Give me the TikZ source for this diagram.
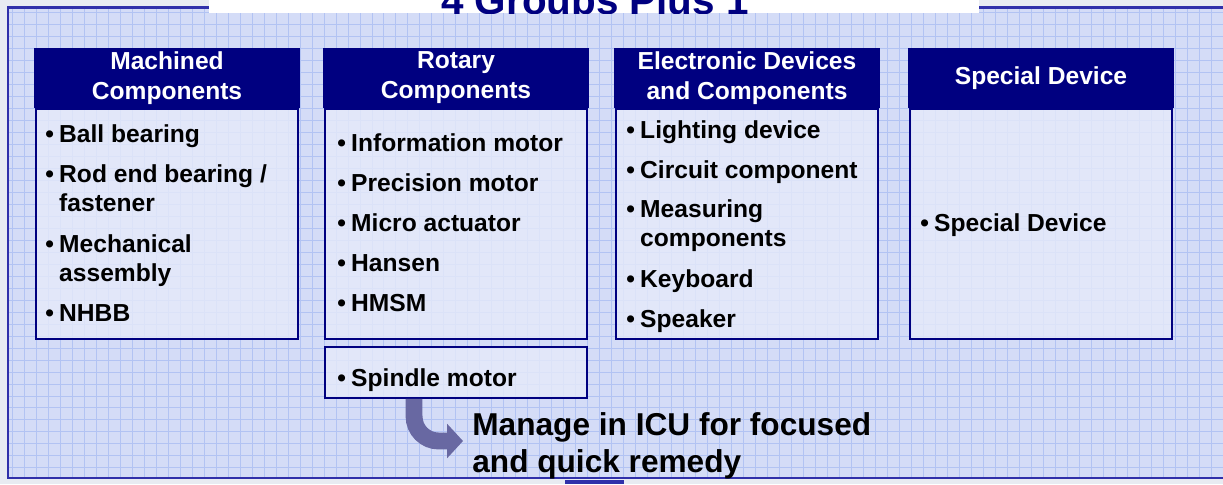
\documentclass[tikz,border=0pt]{standalone}
\usepackage{fontspec}
\setmainfont{Liberation Sans}
\usetikzlibrary{positioning,arrows.meta,calc}
\definecolor{SlideNavy}{RGB}{0,0,128}
\definecolor{PanelBlue}{RGB}{212,220,247}
\definecolor{GridBlue}{RGB}{178,195,243}
\definecolor{BodyBlue}{RGB}{230,234,250}
\definecolor{FrameBlue}{RGB}{48,48,170}
\definecolor{PageGray}{RGB}{232,235,242}
\definecolor{ArrowPurple}{RGB}{104,104,162}
\newcommand{\bl}{\textbullet\hspace{3pt}}
\newcommand{\ind}{\hphantom{\textbullet\hspace{3pt}}}

\begin{document}
\begin{tikzpicture}[x=0.02cm,y=-0.02cm,
    every node/.style={font=\bfseries},
    hdr/.style={fill=SlideNavy,text=white,minimum width=5.32cm,minimum height=1.2cm,align=center,inner sep=0pt,font=\bfseries\fontsize{14}{17}\selectfont},
    bodybox/.style={draw=SlideNavy,line width=1.1pt,fill=BodyBlue,fill opacity=0.8,minimum width=5.24cm,minimum height=4.6cm,anchor=north,inner sep=0pt},
    itm/.style={anchor=base west,align=left,inner sep=0pt,font=\bfseries\fontsize{14}{16.4}\selectfont}]
  \clip (0,0) rectangle (1223,484);
  \useasboundingbox (0,0) rectangle (1223,484);
  \fill[PageGray] (0,0) rectangle (1223,484);
  % panel with grid
  \fill[PanelBlue] (8,7.5) rectangle (1240,478);
  \draw[GridBlue,line width=0.5pt,step=0.24cm] (9,9) grid (1223,477);
  \draw[FrameBlue,line width=1.2pt] (1240,7.5) -- (8,7.5) -- (8,478) -- (1240,478);
  % title bar
  \fill[white] (209,0) rectangle (979,13);
  \begin{scope}
    \clip (0,0) rectangle (1223,13.5);
    \node[anchor=base,text=SlideNavy,inner sep=0pt,font=\bfseries\fontsize{23}{28}\selectfont] (title) at (595,14) {4 Groups Plus 1};
  \end{scope}

  % headers
  \node[hdr] (h1) at (167,78) {Machined\\Components};
  \node[hdr] (h2) at (456,78) {Rotary\\Components};
  \node[hdr] (h3) at (747,78) {Electronic Devices\\and Components};
  \node[hdr] (h4) at (1041,78) {Special Device};
  % bodies
  \node[bodybox] (b1) at (h1.south) {};
  \node[bodybox] (b2) at (h2.south) {};
  \node[bodybox] (b3) at (h3.south) {};
  \node[bodybox] (b4) at (h4.south) {};
  \node[bodybox,minimum height=1.02cm,anchor=center] (sp) at (456,372.5) {};

  % machined (base = last line)
  \node[itm] (m1) at (45,142) {\bl Ball bearing};
  \node[itm] (m2) at (45,211) {\bl Rod end bearing /\\\ind fastener};
  \node[itm] (m3) at (45,281) {\bl Mechanical\\\ind assembly};
  \node[itm] (m4) at (45,321) {\bl NHBB};
  % rotary
  \node[itm] (r1) at (337,151) {\bl Information motor};
  \node[itm] (r2) at (337,191) {\bl Precision motor};
  \node[itm] (r3) at (337,231) {\bl Micro actuator};
  \node[itm] (r4) at (337,271) {\bl Hansen};
  \node[itm] (r5) at (337,311) {\bl HMSM};
  \node[itm] (r6) at (337,386) {\bl Spindle motor};
  % electronic
  \node[itm] (e1) at (626,138) {\bl Lighting device};
  \node[itm] (e2) at (626,178) {\bl Circuit component};
  \node[itm] (e3) at (626,246) {\bl Measuring\\\ind components};
  \node[itm] (e4) at (626,287) {\bl Keyboard};
  \node[itm] (e5) at (626,327) {\bl Speaker};
  % special
  \node[itm] (s1) at (920,231) {\bl Special Device};

  % ICU note
  \node[anchor=base west,align=left,inner sep=0pt,font=\bfseries\fontsize{18}{21}\selectfont] (icu) at (472,472) {Manage in ICU for focused\\and quick remedy};
  \coordinate (tip) at (463,441);
  \draw[ArrowPurple,line width=9.6pt,rounded corners=14pt,-{Triangle[length=9pt,width=19pt]}] ($(sp.south west)+(90,0)$) |- (tip);

  \fill[FrameBlue] (565,480) rectangle (624,484);
\end{tikzpicture}
\end{document}
